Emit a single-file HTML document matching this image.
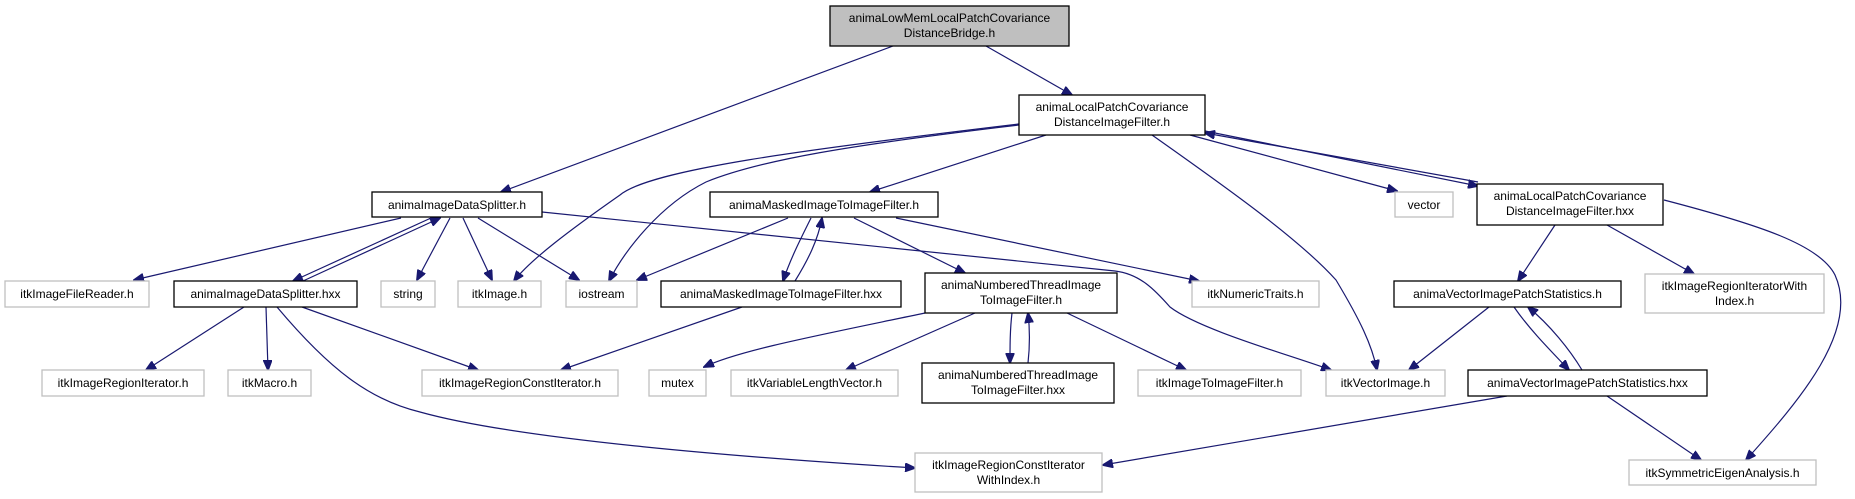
<!DOCTYPE html>
<html><head><meta charset="utf-8"><style>
html,body{margin:0;padding:0;background:#fff;}
svg{display:block;}
text{font-family:"Liberation Sans",Arial,sans-serif;font-size:12px;fill:#000;text-anchor:middle;}
.a{fill:#fff;stroke:#000;stroke-width:1.3;}
.g{fill:#fff;stroke:#bfbfbf;stroke-width:1.3;}
.e{fill:none;stroke:#191970;stroke-width:1.2;}
</style></head><body>
<svg width="1855" height="499" viewBox="0 0 1855 499" xmlns="http://www.w3.org/2000/svg">
<defs>
<marker id="m" markerWidth="11" markerHeight="9" refX="10" refY="4.5" orient="auto" markerUnits="userSpaceOnUse">
<path d="M0,0 L11,4.5 L0,9 z" fill="#191970" stroke="#191970"/>
</marker>
</defs>
<g marker-end="url(#m)">
<path class="e" d="M893,46 L501,192"/>
<path class="e" d="M986,46 L1072,95"/>
<path class="e" d="M1019,124 C800,150 650,170 620,195 C570,230 530,260 514,281"/>
<path class="e" d="M1019,125 C850,145 760,160 706,182 C660,205 625,250 609,281"/>
<path class="e" d="M1046,135 L870,192"/>
<path class="e" d="M1152,135 C1230,190 1300,240 1336,280 C1360,320 1372,345 1377,370"/>
<path class="e" d="M1190,135 L1397,191"/>
<path class="e" d="M1205,131 L1478,186"/>
<path class="e" d="M1478,182 L1205,133"/>
<path class="e" d="M401,218 L134,280"/>
<path class="e" d="M431,218 L293,281"/>
<path class="e" d="M303,281 L440,218"/>
<path class="e" d="M450,218 L417,280"/>
<path class="e" d="M463,218 L492,280"/>
<path class="e" d="M478,218 L579,280"/>
<path class="e" d="M542,212 L1115,271 C1140,274 1155,290 1170,307 C1200,330 1290,355 1331,370"/>
<path class="e" d="M788,218 L637,280"/>
<path class="e" d="M811,218 C800,240 790,260 783,281"/>
<path class="e" d="M795,281 C808,260 818,240 822,218"/>
<path class="e" d="M854,218 L965,273"/>
<path class="e" d="M896,218 L1199,281"/>
<path class="e" d="M742,307 L561,370"/>
<path class="e" d="M244,307 L146,370"/>
<path class="e" d="M266,307 L268,370"/>
<path class="e" d="M302,307 L478,370"/>
<path class="e" d="M277,307 C330,370 370,400 420,412 C520,440 750,458 915,468"/>
<path class="e" d="M925,313 C820,335 740,350 704,367"/>
<path class="e" d="M975,313 L846,370"/>
<path class="e" d="M1012,313 C1010,330 1010,345 1010,363"/>
<path class="e" d="M1028,363 C1030,345 1030,330 1028,313"/>
<path class="e" d="M1067,313 L1186,370"/>
<path class="e" d="M1489,307 L1409,370"/>
<path class="e" d="M1514,307 C1530,330 1550,350 1569,370"/>
<path class="e" d="M1582,370 C1570,350 1550,325 1528,307"/>
<path class="e" d="M1507,396 L1103,465"/>
<path class="e" d="M1607,396 L1701,460"/>
<path class="e" d="M1555,225 L1518,281"/>
<path class="e" d="M1607,225 L1694,274"/>
<path class="e" d="M1664,200 C1760,225 1820,245 1835,275 C1860,330 1800,400 1746,460"/>
</g>
<!-- nodes -->
<rect x="830" y="6" width="239" height="40" fill="#bfbfbf" stroke="#000" stroke-width="1.3"/>
<text x="949.5" y="22">animaLowMemLocalPatchCovariance</text><text x="949.5" y="37">DistanceBridge.h</text>

<rect class="a" x="1019" y="95" width="186" height="40"/>
<text x="1112" y="111">animaLocalPatchCovariance</text><text x="1112" y="126">DistanceImageFilter.h</text>

<rect class="a" x="372" y="192" width="170" height="25"/><text x="457" y="209">animaImageDataSplitter.h</text>
<rect class="a" x="710" y="192" width="228" height="25"/><text x="824" y="209">animaMaskedImageToImageFilter.h</text>
<rect class="g" x="1395" y="192" width="58" height="25"/><text x="1424" y="209">vector</text>
<rect class="a" x="1477" y="184" width="186" height="41"/>
<text x="1570" y="200">animaLocalPatchCovariance</text><text x="1570" y="215">DistanceImageFilter.hxx</text>

<rect class="g" x="5" y="281" width="144" height="26"/><text x="77" y="298">itkImageFileReader.h</text>
<rect class="a" x="174" y="281" width="183" height="26"/><text x="265.5" y="298">animaImageDataSplitter.hxx</text>
<rect class="g" x="381" y="281" width="54" height="26"/><text x="408" y="298">string</text>
<rect class="g" x="458" y="281" width="83" height="26"/><text x="499.5" y="298">itkImage.h</text>
<rect class="g" x="566" y="281" width="71" height="26"/><text x="601.5" y="298">iostream</text>
<rect class="a" x="661" y="281" width="240" height="26"/><text x="781" y="298">animaMaskedImageToImageFilter.hxx</text>
<rect class="a" x="925" y="273" width="192" height="40"/>
<text x="1021" y="289">animaNumberedThreadImage</text><text x="1021" y="304">ToImageFilter.h</text>
<rect class="g" x="1192" y="281" width="127" height="26"/><text x="1255.5" y="298">itkNumericTraits.h</text>
<rect class="a" x="1394" y="281" width="227" height="26"/><text x="1507.5" y="298">animaVectorImagePatchStatistics.h</text>
<rect class="g" x="1645" y="274" width="179" height="39"/>
<text x="1734.5" y="290">itkImageRegionIteratorWith</text><text x="1734.5" y="305">Index.h</text>

<rect class="g" x="42" y="370" width="162" height="26"/><text x="123" y="387">itkImageRegionIterator.h</text>
<rect class="g" x="228" y="370" width="83" height="26"/><text x="269.5" y="387">itkMacro.h</text>
<rect class="g" x="422" y="370" width="196" height="26"/><text x="520" y="387">itkImageRegionConstIterator.h</text>
<rect class="g" x="649" y="370" width="57" height="26"/><text x="677.5" y="387">mutex</text>
<rect class="g" x="731" y="370" width="167" height="26"/><text x="814.5" y="387">itkVariableLengthVector.h</text>
<rect class="a" x="922" y="363" width="192" height="40"/>
<text x="1018" y="379">animaNumberedThreadImage</text><text x="1018" y="394">ToImageFilter.hxx</text>
<rect class="g" x="1138" y="370" width="163" height="26"/><text x="1219.5" y="387">itkImageToImageFilter.h</text>
<rect class="g" x="1326" y="370" width="119" height="26"/><text x="1385.5" y="387">itkVectorImage.h</text>
<rect class="a" x="1468" y="370" width="239" height="26"/><text x="1587.5" y="387">animaVectorImagePatchStatistics.hxx</text>

<rect class="g" x="915" y="453" width="187" height="39"/>
<text x="1008.5" y="469">itkImageRegionConstIterator</text><text x="1008.5" y="484">WithIndex.h</text>
<rect class="g" x="1629" y="460" width="187" height="25"/><text x="1722.5" y="477">itkSymmetricEigenAnalysis.h</text>
</svg>
</body></html>
